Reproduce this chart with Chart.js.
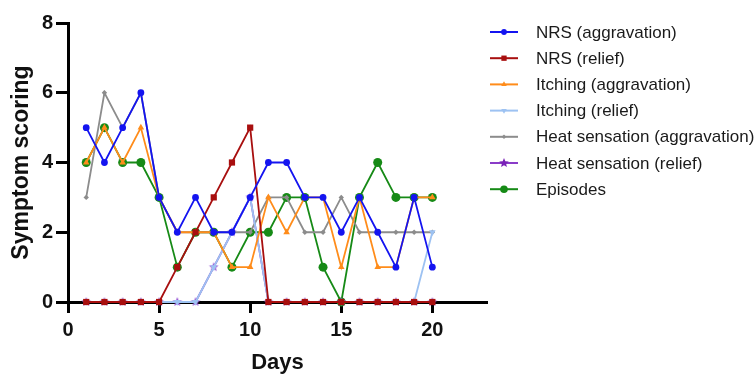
<!DOCTYPE html>
<html>
<head>
<meta charset="utf-8">
<script src="https://cdn.jsdelivr.net/npm/chart.js@4.4.1/dist/chart.umd.min.js"></script>
<style>
  body { margin: 0; background: #fff; }
</style>
</head>
<body>
<canvas id="symptoms" width="756" height="374"></canvas>
<script>
let days = [1, 2, 3, 4, 5, 6, 7, 8, 9, 10, 11, 12, 13, 14, 15, 16, 17, 18, 19, 20]

let nrsAggravation = [5, 4, 5, 6, 3, 2, 3, 2, 2, 3, 4, 4, 3, 3, 2, 3, 2, 1, 3, 1]
let nrsRelief = [0, 0, 0, 0, 0, 1, 2, 3, 4, 5, 0, 0, 0, 0, 0, 0, 0, 0, 0, 0]
let itchingAggravation = [4, 5, 4, 5, 3, 2, 2, 2, 1, 1, 3, 2, 3, 3, 1, 3, 1, 1, 3, 3]
let itchingRelief = [0, 0, 0, 0, 0, 0, 0, 1, 2, 3, 0, 0, 0, 0, 0, 0, 0, 0, 0, 2]
let heatAggravation = [3, 6, 5, 6, 3, 2, 2, 2, 2, 2, 3, 3, 2, 2, 3, 2, 2, 2, 2, 2]
let heatRelief = [0, 0, 0, 0, 0, 0, 0, 1, 2, 3, 0, 0, 0, 0, 0, 0, 0, 0, 0, 0]
let episodes = [4, 5, 4, 4, 3, 1, 2, 2, 1, 2, 2, 3, 3, 1, 0, 3, 4, 3, 3, 3]

let xTicks = [0, 5, 10, 15, 20]
let yTicks = [0, 2, 4, 6, 8]

const FONT = '"Liberation Sans", Arial, sans-serif'

// filled five point star, chart.js only has the asterisk kind
function makeStar(color, r) {
  let c = document.createElement('canvas')
  c.width = c.height = Math.ceil(r * 2 + 2)
  let g = c.getContext('2d')
  let cx = c.width / 2
  g.beginPath()
  for (let i = 0; i < 10; i++) {
    let rad = i % 2 === 0 ? r : r * 0.45
    let a = -Math.PI / 2 + i * Math.PI / 5
    g.lineTo(cx + rad * Math.cos(a), cx + rad * Math.sin(a))
  }
  g.closePath()
  g.fillStyle = color
  g.fill()
  return c
}

let pts = (vals) => days.map((d, i) => ({x: d, y: vals[i]}))

let series = [
  {label: 'NRS (aggravation)', data: nrsAggravation, color: '#1414f0', style: 'circle', radius: 3.4},
  {label: 'NRS (relief)', data: nrsRelief, color: '#a80f0f', style: 'rect', radius: 4.4},
  {label: 'Itching (aggravation)', data: itchingAggravation, color: '#ff8c1a', style: 'triangle', radius: 3.8},
  {label: 'Itching (relief)', data: itchingRelief, color: '#9dc2f2', style: 'triangle', radius: 3.8, rotation: 180},
  {label: 'Heat sensation (aggravation)', data: heatAggravation, color: '#8c8c8c', style: 'rectRot', radius: 2.7},
  {label: 'Heat sensation (relief)', data: heatRelief, color: '#8a3cc8', style: makeStar('#9a5ad6', 5), legendStar: makeStar('#7a22b8', 5), radius: 5},
  {label: 'Episodes', data: episodes, color: '#168a16', style: 'circle', radius: 4.5},
]

let legendLines = {
  id: 'legendLines',
  afterDraw(chart) {
    let ctx = chart.ctx
    let x0 = chart.chartArea.right + 3
    ctx.save()
    chart.data.datasets.forEach((ds, i) => {
      let y = 32 + i * 26.2
      ctx.strokeStyle = ds.borderColor
      ctx.lineWidth = 2
      ctx.beginPath()
      ctx.moveTo(x0, y)
      ctx.lineTo(x0 + 28, y)
      ctx.stroke()
      ctx.fillStyle = ds.borderColor
      Chart.helpers.drawPoint(ctx, {
        pointStyle: ds.legendStar || ds.pointStyle,
        radius: ds.pointRadius * 0.85,
        rotation: ds.pointRotation || 0,
        borderWidth: 0,
      }, x0 + 14, y)
      ctx.fillStyle = '#1a1a1a'
      ctx.font = '17px ' + FONT
      ctx.textBaseline = 'middle'
      ctx.textAlign = 'left'
      ctx.fillText(ds.label, x0 + 46, y + 1)
    })
    ctx.restore()
  },
}

let symptomChart = new Chart(document.getElementById('symptoms'), {
  type: 'line',
  data: {
    datasets: series.map((s) => ({
      label: s.label,
      data: pts(s.data),
      borderColor: s.color,
      backgroundColor: s.color,
      pointBackgroundColor: s.color,
      pointBorderColor: s.color,
      pointBorderWidth: 0,
      pointStyle: s.style,
      legendStar: s.legendStar,
      pointRotation: s.rotation || 0,
      pointRadius: s.radius,
      borderWidth: 1.8,
      tension: 0,
      fill: false,
      clip: false,
    })),
  },
  options: {
    responsive: false,
    devicePixelRatio: 1,
    animation: false,
    layout: {
      padding: {top: 23, right: 269, left: 0, bottom: 0},
    },
    plugins: {
      legend: {display: false},
      tooltip: {enabled: false},
    },
    scales: {
      x: {
        type: 'linear',
        min: 0,
        max: 23,
        afterFit: (scale) => { scale.height = 72 },
        afterBuildTicks: (scale) => { scale.ticks = xTicks.map((v) => ({value: v})) },
        ticks: {
          stepSize: 5,
          includeBounds: false,
          color: '#111',
          padding: 5,
          font: {family: FONT, size: 20, weight: 'bold'},
        },
        grid: {
          drawOnChartArea: false,
          tickLength: 11,
          tickWidth: 3,
          tickColor: '#000',
        },
        border: {color: '#000', width: 3},
        title: {
          display: true,
          text: 'Days',
          color: '#111',
          padding: 0,
          font: {family: FONT, size: 22, weight: 'bold', lineHeight: 1},
        },
      },
      y: {
        min: 0,
        max: 8,
        afterFit: (scale) => { scale.width = 68 },
        afterBuildTicks: (scale) => { scale.ticks = yTicks.map((v) => ({value: v})) },
        ticks: {
          stepSize: 2,
          color: '#111',
          padding: 3,
          font: {family: FONT, size: 20, weight: 'bold'},
        },
        grid: {
          drawOnChartArea: false,
          tickLength: 12,
          tickWidth: 3,
          tickColor: '#000',
        },
        border: {color: '#000', width: 3},
        title: {
          display: true,
          text: 'Symptom scoring',
          color: '#111',
          padding: 10,
          font: {family: FONT, size: 23, weight: 'bold', lineHeight: 1},
        },
      },
    },
  },
  plugins: [legendLines],
})
</script>
</body>
</html>
